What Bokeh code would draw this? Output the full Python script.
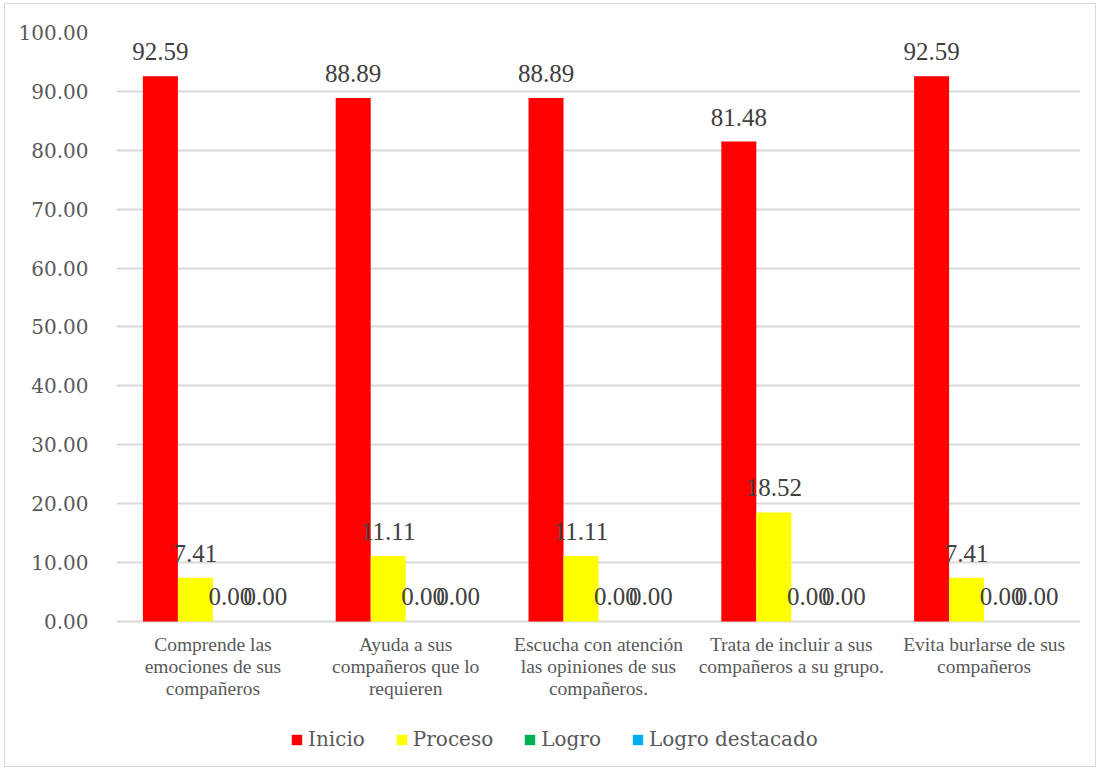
from bokeh.plotting import figure
from bokeh.models import (ColumnDataSource, FactorRange, Range1d, Legend, LegendItem,
                          LabelSet, NumeralTickFormatter)
from bokeh.transform import dodge
from bokeh.embed import file_html
from bokeh.resources import INLINE

categories = [
    "Comprende las\nemociones de sus\ncompañeros",
    "Ayuda a sus\ncompañeros que lo\nrequieren",
    "Escucha con atención\nlas opiniones de sus\ncompañeros.",
    "Trata de incluir a sus\ncompañeros a su grupo.",
    "Evita burlarse de sus\ncompañeros",
]
series_names = ["Inicio", "Proceso", "Logro", "Logro destacado"]
inicio = [92.59, 88.89, 88.89, 81.48, 92.59]
proceso = [7.41, 11.11, 11.11, 18.52, 7.41]
logro = [0.00, 0.00, 0.00, 0.00, 0.00]
logro_destacado = [0.00, 0.00, 0.00, 0.00, 0.00]
colors = ["#FF0000", "#FFFF00", "#00B050", "#00B0F0"]
y_ticks = [0, 10, 20, 30, 40, 50, 60, 70, 80, 90, 100]

FONT = "DejaVu Serif"

# frame extends below zero so that category labels and legend live inside the frame
p = figure(frame_width=964, frame_height=734, x_range=FactorRange(*categories),
           y_range=Range1d(-24.62, 100), output_backend="svg", toolbar_location=None,
           min_border_left=111, min_border_right=15, min_border_top=28, min_border_bottom=0)
p.styles = {"border": "1px solid #d9d9d9", "margin-left": "4px", "margin-top": "3px"}
p.outline_line_color = None
p.background_fill_color = "white"

bar_w = 0.1815
offsets = [-1.5 * bar_w, -0.5 * bar_w, 0.5 * bar_w, 1.5 * bar_w]
all_vals = [inicio, proceso, logro, logro_destacado]

items = []
for name, vals, col, off in zip(series_names, all_vals, colors, offsets):
    src = ColumnDataSource(dict(cat=categories, val=vals, lbl=[f"{v:.2f}" for v in vals]))
    r = p.vbar(x=dodge("cat", off, range=p.x_range), top="val", width=bar_w, source=src,
               fill_color=col, line_color=None)
    labels = LabelSet(x=dodge("cat", off, range=p.x_range), y="val", text="lbl", source=src,
                      text_align="center", text_baseline="bottom", y_offset=16,
                      text_font=FONT, text_font_size="25px", text_color="#404040")
    p.add_layout(labels)
    items.append(LegendItem(label=name, renderers=[r]))

# category labels, one centred LabelSet per text line
split = [c.split("\n") for c in categories]
n_lines = max(len(s) for s in split)
for i in range(n_lines):
    line_src = ColumnDataSource(dict(cat=categories, base=[0] * len(categories),
                                     txt=[s[i] if i < len(s) else "" for s in split]))
    p.add_layout(LabelSet(x="cat", y="base", text="txt", source=line_src,
                          text_align="center", text_baseline="top", y_offset=-13 - 22 * i,
                          text_font=FONT, text_font_size="19.5px", text_color="#595959"))

p.xaxis.visible = False

p.yaxis.ticker = y_ticks
p.yaxis.formatter = NumeralTickFormatter(format="0.00")
p.yaxis.axis_line_color = None
p.yaxis.major_tick_line_color = None
p.yaxis.minor_tick_line_color = None
p.yaxis.major_label_standoff = 22
p.yaxis.major_label_text_font = FONT
p.yaxis.major_label_text_font_size = "20px"
p.yaxis.major_label_text_color = "#595959"

p.xgrid.grid_line_color = None
p.ygrid.ticker = y_ticks
p.ygrid.grid_line_color = "#d9d9d9"
p.ygrid.grid_line_width = 2

legend = Legend(items=items, orientation="horizontal", location=(174, 15),
                label_text_font=FONT, label_text_font_size="20px", label_text_color="#595959",
                glyph_width=13, glyph_height=13, label_standoff=5, spacing=30,
                border_line_color=None, background_fill_alpha=0, margin=0, padding=0)
p.add_layout(legend)

open("out.html", "w").write(file_html(p, INLINE))
